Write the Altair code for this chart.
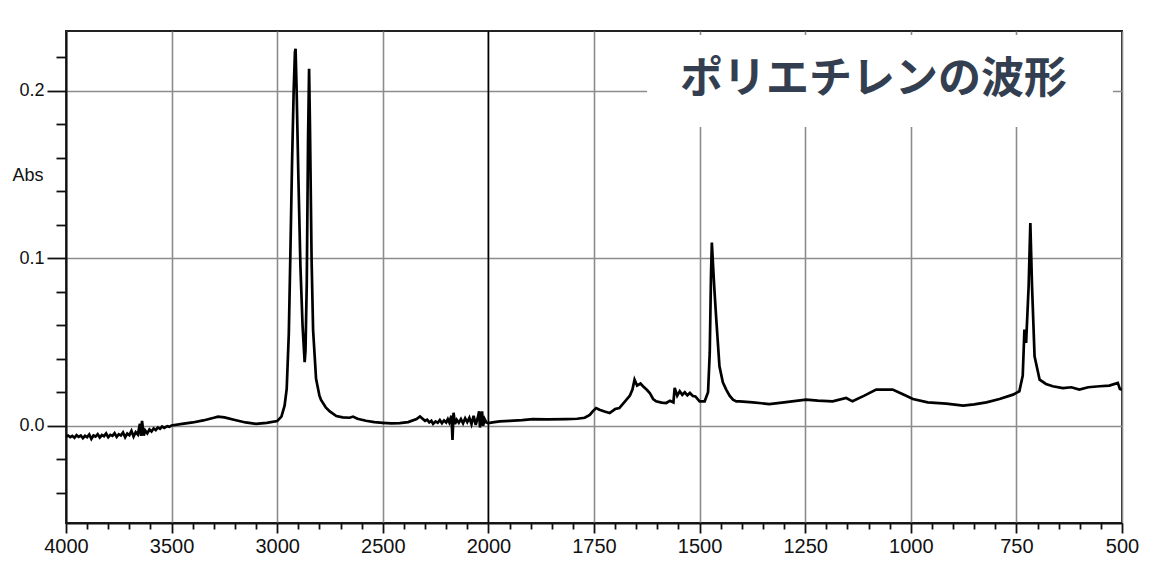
import altair as alt
import pandas as pd

TITLE = "ポリエチレンの波形"
Y_TITLE = "Abs"

WN = [4000, 3990, 3980, 3970, 3960, 3950, 3940, 3930, 3920, 3910, 3900, 3890, 3880, 3870, 3860,
      3850, 3840, 3830, 3820, 3810, 3800, 3790, 3780, 3770, 3760, 3750, 3740, 3730, 3720, 3710,
      3700, 3690, 3680, 3670, 3660, 3650, 3645, 3640, 3632, 3625, 3615, 3605, 3595, 3585, 3575,
      3565, 3555, 3545, 3535, 3520, 3510, 3500,
      3450, 3400, 3350, 3300, 3280, 3250, 3200, 3150, 3100, 3050, 3000, 2980, 2965, 2955, 2945,
      2938, 2930, 2922, 2916, 2913, 2908, 2900, 2890, 2880, 2870, 2866, 2860, 2854, 2849, 2845,
      2837, 2830, 2816, 2800, 2793, 2770, 2751, 2720, 2690, 2657, 2641, 2620, 2580, 2540, 2500,
      2460, 2420, 2380, 2340, 2324, 2300, 2290, 2280, 2270, 2262, 2250, 2240, 2230, 2220, 2210,
      2200, 2192, 2185, 2175, 2170, 2165, 2158, 2150, 2140, 2130, 2120, 2110, 2100, 2090, 2080,
      2070, 2060, 2050, 2044, 2040, 2030, 2025, 2018, 2010, 2000,
      1990, 1973, 1950, 1920, 1895, 1860, 1815, 1790, 1772, 1760, 1753, 1745, 1737, 1725, 1713,
      1700, 1690, 1675, 1665, 1659, 1654, 1648, 1640, 1634, 1625, 1618, 1610, 1603, 1590, 1579,
      1570, 1562, 1559, 1553, 1547, 1541, 1535, 1529, 1523, 1516, 1510, 1500, 1488, 1480, 1476,
      1473, 1471, 1468, 1465, 1461,
      1453, 1445, 1437, 1429, 1421, 1413, 1405, 1374, 1335, 1300, 1248, 1220, 1185, 1153, 1138,
      1110, 1082, 1043, 1020, 995, 960, 916, 876, 850, 821, 790, 758, 743, 735, 731,
      727, 721, 717, 713, 707, 695, 680, 664, 640, 620, 601, 580, 553, 530, 510, 505, 500]

ABS = [-0.0064, -0.0058, -0.0068, -0.0060, -0.0072, -0.0056, -0.0066, -0.0058, -0.0074, -0.0060,
       -0.0068, -0.0052, -0.0078, -0.0058, -0.0064, -0.0050, -0.0070, -0.0055, -0.0062, -0.0046,
       -0.0068, -0.0054, -0.0060, -0.0044, -0.0066, -0.0050, -0.0058, -0.0040, -0.0068, -0.0046,
       -0.0056, -0.0030, -0.0064, -0.0038, -0.0052, 0.0012, -0.0060, 0.0030, -0.0058, -0.0028,
       -0.0045, -0.0022, -0.0034, -0.0016, -0.0026, -0.0010, -0.0018, -0.0004, -0.0012, -0.0002,
       -0.0006, 0.0002,
       0.0012, 0.0020, 0.0032, 0.0048, 0.0055, 0.0050, 0.0035, 0.0020, 0.0012, 0.0018,
       0.0028, 0.0055, 0.012, 0.022, 0.055, 0.100, 0.155, 0.200, 0.223, 0.225,
       0.200, 0.150, 0.095, 0.060, 0.038, 0.045, 0.085, 0.170, 0.213, 0.180,
       0.098, 0.057, 0.028, 0.018, 0.0156, 0.011, 0.0086, 0.0058, 0.0050, 0.0048,
       0.0055, 0.0042, 0.0030, 0.0022, 0.0018, 0.0015, 0.0016, 0.0022, 0.0040, 0.0056,
       0.0030, 0.0036, 0.0020, 0.0030, 0.0012, 0.0026, 0.0018, 0.0034, 0.0016, 0.0032,
       0.0020, 0.0040, 0.0020, 0.0060, -0.0084, 0.0078, 0.0010, 0.0036, 0.0018, 0.0040,
       0.0015, 0.0045, 0.0022, 0.0048, 0.0010, 0.0060, 0.0005, 0.0050, 0.0086, -0.0010,
       0.0086, 0.0000, 0.0040, 0.0020, 0.0016,
       0.0020, 0.0026, 0.0030, 0.0034, 0.0040, 0.0038, 0.0040, 0.0042, 0.0048, 0.0065,
       0.0086, 0.0106, 0.0096, 0.0085, 0.0076, 0.0100, 0.0106, 0.0150, 0.0180, 0.0216,
       0.0275, 0.0240, 0.0252, 0.0236, 0.0215, 0.0196, 0.0160, 0.0146, 0.0138, 0.0136,
       0.0150, 0.0140, 0.0226, 0.0180, 0.0206, 0.0185, 0.0200, 0.0182, 0.0196, 0.0178,
       0.0175, 0.0146, 0.0146, 0.0200, 0.0435,
       0.090, 0.1094, 0.095, 0.0814, 0.0654, 0.0355, 0.026, 0.0216, 0.018, 0.0156,
       0.0146, 0.0146, 0.0140, 0.0130, 0.0140, 0.0156, 0.0150, 0.0146, 0.0166, 0.0146,
       0.0180, 0.0216, 0.0216, 0.0190, 0.0160, 0.0140, 0.0132, 0.0120, 0.0128, 0.0140,
       0.0160, 0.0186, 0.0206, 0.030, 0.0575, 0.0495, 0.0834, 0.121, 0.0834, 0.0415,
       0.0275, 0.0250, 0.0236, 0.0225, 0.0230, 0.0216, 0.0230, 0.0236, 0.0240, 0.0256,
       0.0220, 0.0216]

X_BREAKS = [4000, 2000, 500]
BREAK_LINE = [2000]
X_TICKS = list(range(4000, 2000, -100)) + list(range(2000, 499, -50))
Y_TICKS = [round(-0.04 + 0.02 * i, 2) for i in range(14)]
Y_DOMAIN = [-0.058, 0.2356]

df = pd.DataFrame({"wn": WN, "abs": ABS})

W, H = 1056, 492

x_major = "(datum.value >= 2000 ? datum.value % 500 == 0 : datum.value % 250 == 0)"
y_major = "abs(datum.value * 10 - round(datum.value * 10)) < 0.000001"

x_scale = alt.Scale(domain=X_BREAKS, range=[0, W * 0.4, W], nice=False, zero=False)

x_axis = alt.Axis(
    values=X_TICKS, title=None, grid=True,
    labelExpr=f"{x_major} ? datum.value : ''",
    tickSize={"condition": {"test": x_major, "value": 10}, "value": 6},
    gridOpacity={"condition": {"test": x_major, "value": 1}, "value": 0},
    gridColor="#8c8c8c",
    labelFont="Liberation Sans", labelFontSize=20, labelPadding=3, labelColor="#111111",
    labelFlush=False, labelOverlap=False,
    domainColor="#111111", domainWidth=2, tickColor="#111111", tickWidth=1.8, gridWidth=1.6,
)

y_axis = alt.Axis(
    values=Y_TICKS, title=Y_TITLE, grid=True,
    labelExpr=f"{y_major} ? format(datum.value, '.1f') : ''",
    tickSize={"condition": {"test": y_major, "value": 19}, "value": 10},
    gridOpacity={"condition": {"test": y_major, "value": 1}, "value": 0},
    gridColor="#8c8c8c",
    labelFont="Liberation Sans", labelFontSize=18, labelPadding=3, labelColor="#111111",
    labelOverlap=False, labelFlush=False,
    titleAngle=0, titleX=-54, titleY=144, titleAlign="left", titleBaseline="middle",
    titleFont="Liberation Sans", titleFontSize=18, titleFontWeight="normal", titleColor="#111111",
    domainColor="#111111", domainWidth=2, tickColor="#111111", tickWidth=1.8, gridWidth=1.6,
)

line = alt.Chart(df).mark_line(color="black", strokeWidth=2.7, clip=True).encode(
    x=alt.X("wn:Q", scale=x_scale, axis=x_axis),
    y=alt.Y("abs:Q", scale=alt.Scale(domain=Y_DOMAIN, nice=False, zero=False), axis=y_axis),
)

break_rule = alt.Chart(pd.DataFrame({"wn": BREAK_LINE})).mark_rule(color="black", strokeWidth=1.6).encode(
    x=alt.X("wn:Q", scale=x_scale, axis=x_axis)
)

box = alt.Chart(pd.DataFrame({"t": [TITLE]})).mark_rect(color="white").encode(
    x=alt.value(581), x2=alt.value(1047), y=alt.value(4), y2=alt.value(96)
)

label = alt.Chart(pd.DataFrame({"t": [TITLE]})).mark_text(
    font="Noto Sans CJK JP", fontSize=43, fontWeight="bold", color="#333f50", align="left", baseline="middle"
).encode(x=alt.value(614), y=alt.value(49), text="t:N")

chart = alt.layer(line, break_rule, box, label).properties(
    width=W, height=H,
    background="white",
    autosize=alt.AutoSizeParams(type="none"),
    padding={"left": 58, "top": 23, "right": 30, "bottom": 40},
).configure_view(stroke="#222222", strokeWidth=2)

chart.save("out.html", embed_options={"renderer": "svg", "actions": False})
